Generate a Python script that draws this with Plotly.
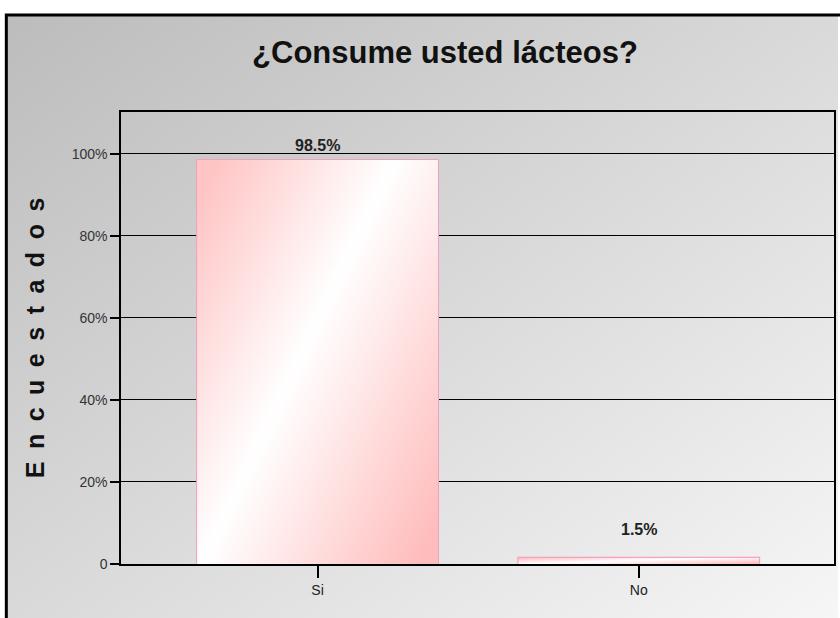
import base64
import plotly.graph_objects as go

categories = ["Si", "No"]
values = [98.5, 1.5]
labels = ["98.5%", "1.5%"]
tick_vals = [0, 20, 40, 60, 80, 100]
tick_text = ["0", "20%", "40%", "60%", "80%", "100%"]

W, H = 840, 618
ML, MR, MT, MB = 121, 4, 112, 54
PW, PH = W - ML - MR, H - MT - MB


def svg_uri(svg):
    return "data:image/svg+xml;base64," + base64.b64encode(svg.encode()).decode()


bg_svg = ('<svg xmlns="http://www.w3.org/2000/svg" width="100" height="100" preserveAspectRatio="none">'
          '<defs><linearGradient id="g" x1="0" y1="0" x2="1" y2="1">'
          '<stop offset="0" stop-color="#bcbcbc"/><stop offset="0.55" stop-color="#dcdcdc"/>'
          '<stop offset="1" stop-color="#f6f6f6"/></linearGradient></defs>'
          '<rect width="100" height="100" fill="url(#g)"/></svg>')
bar_svg = ('<svg xmlns="http://www.w3.org/2000/svg" width="100" height="100" preserveAspectRatio="none">'
           '<defs><linearGradient id="b" x1="0" y1="0.1" x2="1" y2="0.9">'
           '<stop offset="0" stop-color="#ffc4c4"/><stop offset="0.45" stop-color="#ffffff"/>'
           '<stop offset="1" stop-color="#ffbcbc"/></linearGradient></defs>'
           '<rect width="100" height="100" fill="url(#b)"/></svg>')

bar_width = 0.75
label_shift = [14, 28]

fig = go.Figure()
fig.add_trace(go.Bar(
    x=list(range(len(categories))), y=values, width=bar_width,
    marker=dict(color="rgba(255,200,220,0.6)", line=dict(color="#f2a0c2", width=2)),
))

images = [dict(source=svg_uri(bg_svg), xref="paper", yref="paper",
               x=(5 - ML) / PW, y=(H - MB - 14) / PH, sizex=(W - 5) / PW, sizey=(H - 14) / PH,
               sizing="stretch", layer="below", xanchor="left", yanchor="top")]
for i, v in enumerate(values):
    images.append(dict(source=svg_uri(bar_svg), xref="x", yref="y",
                       x=i - bar_width / 2, y=v, sizex=bar_width, sizey=v,
                       sizing="stretch", layer="above", xanchor="left", yanchor="top", opacity=1))

annotations = [dict(x=i, y=v, xref="x", yref="y", text="<b>" + t + "</b>", showarrow=False,
                    yshift=label_shift[i], font=dict(family="Arial", size=16, color="#222"))
               for i, (v, t) in enumerate(zip(values, labels))]

ytitle = "\u2002".join("Encuestados")

fig.update_layout(
    width=W, height=H, margin=dict(l=ML, r=MR, t=MT, b=MB),
    paper_bgcolor="white", plot_bgcolor="rgba(0,0,0,0)",
    showlegend=False,
    images=images, annotations=annotations,
    shapes=[dict(type="rect", xref="paper", yref="paper",
                 x0=(6 - ML) / PW, x1=(W + 5 - ML) / PW, y0=(H - MB - H - 5) / PH, y1=(H - MB - 15) / PH,
                 line=dict(color="black", width=3), layer="above")],
    title=dict(text="<b>¿Consume usted lácteos?</b>", x=445 / W, xanchor="center",
               y=1 - 52 / H, yanchor="middle",
               font=dict(family="Arial", size=31, color="#111")),
    xaxis=dict(range=[-0.612, 1.608], tickvals=list(range(len(categories))), ticktext=categories,
               ticks="outside", ticklen=12, tickcolor="black", tickwidth=1.5,
               showline=True, linecolor="black", linewidth=1.5, mirror=True,
               showgrid=False, zeroline=False,
               tickfont=dict(family="Arial", size=14, color="#222")),
    yaxis=dict(range=[0, 110.2], tickvals=tick_vals, ticktext=tick_text,
               ticks="outside", ticklen=9, tickcolor="black", tickwidth=1.5,
               showline=True, linecolor="black", linewidth=1.5, mirror=True,
               showgrid=True, gridcolor="black", gridwidth=1, zeroline=False,
               tickfont=dict(family="Arial", size=14, color="#333"),
               title=dict(text="<b>" + ytitle + "</b>", standoff=20,
                          font=dict(family="Arial", size=25, color="#111"))),
)

fig.write_html("out.html")
